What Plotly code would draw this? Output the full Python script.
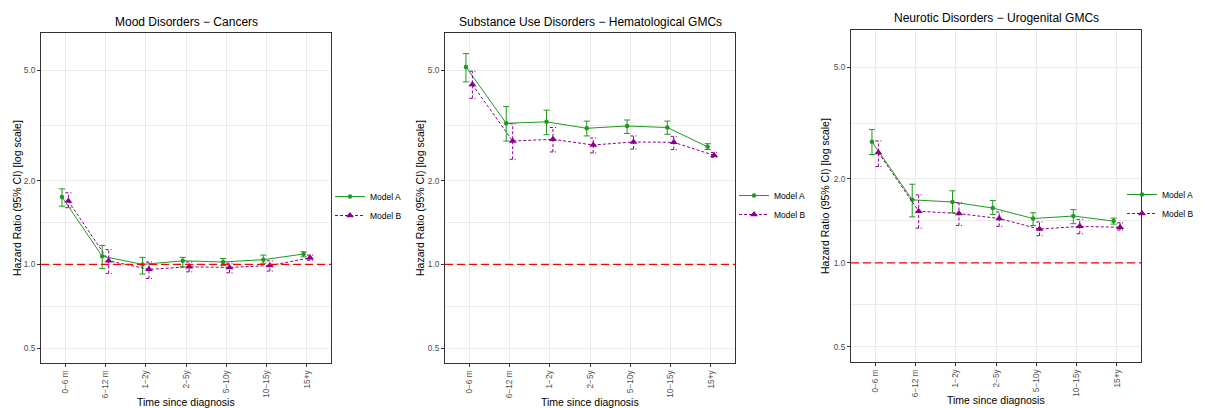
import plotly.graph_objects as go

# ---------------- data ----------------
periods = ["0−6 m", "6−12 m", "1−2y", "2−5y", "5−10y", "10−15y", "15+y"]
panel_titles = ["Mood Disorders − Cancers",
                "Substance Use Disorders − Hematological GMCs",
                "Neurotic Disorders − Urogenital GMCs"]
models = ["Model A", "Model B"]

# Panel 1: Mood Disorders - Cancers
p1_a_hr = [1.75, 1.07, 1.00, 1.03, 1.02, 1.04, 1.09]
p1_a_lo = [1.62, 0.967, 0.923, 0.98, 0.99, 1.01, 1.065]
p1_a_hi = [1.87, 1.17, 1.06, 1.06, 1.05, 1.08, 1.11]
p1_b_hr = [1.69, 1.03, 0.96, 0.98, 0.975, 0.99, 1.056]
p1_b_lo = [1.60, 0.928, 0.89, 0.94, 0.933, 0.946, 1.035]
p1_b_hi = [1.81, 1.13, 1.02, 1.02, 1.01, 1.03, 1.08]

# Panel 2: Substance Use Disorders - Hematological GMCs
p2_a_hr = [5.14, 3.22, 3.26, 3.09, 3.15, 3.11, 2.65]
p2_a_lo = [4.54, 2.78, 2.93, 2.90, 2.96, 2.94, 2.59]
p2_a_hi = [5.74, 3.70, 3.59, 3.28, 3.31, 3.28, 2.72]
p2_b_hr = [4.44, 2.78, 2.82, 2.69, 2.76, 2.75, 2.47]
p2_b_lo = [3.96, 2.39, 2.54, 2.52, 2.60, 2.59, 2.43]
p2_b_hi = [4.96, 3.21, 3.11, 2.85, 2.90, 2.89, 2.53]

# Panel 3: Neurotic Disorders - Urogenital GMCs
p3_a_hr = [2.71, 1.68, 1.65, 1.57, 1.44, 1.47, 1.41]
p3_a_lo = [2.44, 1.46, 1.51, 1.49, 1.36, 1.38, 1.375]
p3_a_hi = [3.00, 1.91, 1.81, 1.67, 1.51, 1.55, 1.445]
p3_b_hr = [2.48, 1.53, 1.50, 1.44, 1.32, 1.35, 1.34]
p3_b_lo = [2.21, 1.33, 1.36, 1.35, 1.25, 1.27, 1.31]
p3_b_hi = [2.73, 1.75, 1.64, 1.52, 1.40, 1.43, 1.39]

y_tickvals = [0.5, 1.0, 2.0, 5.0]
y_ticktext = ["0.5", "1.0", "2.0", "5.0"]
y_minor = [0.7071, 1.4142, 3.1623]
REF_HR = 1.0

panels = [
    ((p1_a_hr, p1_a_lo, p1_a_hi), (p1_b_hr, p1_b_lo, p1_b_hi)),
    ((p2_a_hr, p2_a_lo, p2_a_hi), (p2_b_hr, p2_b_lo, p2_b_hi)),
    ((p3_a_hr, p3_a_lo, p3_a_hi), (p3_b_hr, p3_b_lo, p3_b_hi)),
]

# ---------------- style / layout ----------------
OFF = 8                      # page body margin
W, H = 1210 - OFF, 408 - OFF
FONT = "Liberation Sans, Arial, sans-serif"
colors = ["#1f9a1f", "#8B008B"]
dashes = ["solid", "3px,2px"]
symbols = ["circle", "triangle-up"]
msizes = [4.5, 7]
dodge = [-0.08, 0.08]
cap = 0.075


def px(x):
    return (x - OFF) / W


def py(y):
    return 1 - (y - OFF) / H


# pixel boxes of the panels in the window: (left, right, top, bottom)
boxes = [(41, 331, 33, 363), (445, 735, 33, 363), (851, 1141, 30, 362)]
title_y = [22, 22, 18]
ytitle_x = [17, 420, 825]
xtitle_y = [402, 402, 400]
legend_pos = [(330, 206), (734, 205), (1122, 204)]

fig = go.Figure()
layout = dict(width=W, height=H, margin=dict(l=0, r=0, t=0, b=0),
              paper_bgcolor="white", plot_bgcolor="white",
              font=dict(family=FONT, color="black"),
              template="none", annotations=[], shapes=[])

for k, (series, box) in enumerate(zip(panels, boxes)):
    n = k + 1
    xa = "x" if n == 1 else f"x{n}"
    ya = "y" if n == 1 else f"y{n}"
    lg = "legend" if n == 1 else f"legend{n}"
    L, R, T, B = box
    for m, (hr, lo, hi) in enumerate(series):
        xs = [i + dodge[m] for i in range(len(periods))]
        # error bars (built from CI arrays)
        ex, ey = [], []
        for x0, l, h in zip(xs, lo, hi):
            ex += [x0, x0, None, x0 - cap, x0 + cap, None, x0 - cap, x0 + cap, None]
            ey += [l, h, None, l, l, None, h, h, None]
        fig.add_trace(go.Scatter(x=ex, y=ey, mode="lines", xaxis=xa, yaxis=ya,
                                 line=dict(color=colors[m], width=1, dash=dashes[m]),
                                 showlegend=False, hoverinfo="skip"))
        fig.add_trace(go.Scatter(x=xs, y=hr, mode="lines+markers", name=models[m],
                                 xaxis=xa, yaxis=ya, legend=lg,
                                 line=dict(color=colors[m], width=1, dash=dashes[m]),
                                 marker=dict(symbol=symbols[m], size=msizes[m],
                                             color=colors[m])))
    axis_common = dict(showline=True, linecolor="#333333", linewidth=1, mirror=True,
                       ticks="outside", ticklen=3, tickcolor="#333333", tickwidth=1,
                       showgrid=True, gridcolor="#EBEBEB", gridwidth=1,
                       zeroline=False, automargin=False,
                       tickfont=dict(family=FONT, size=8.3, color="#4D4D4D"))
    layout["xaxis" if n == 1 else f"xaxis{n}"] = dict(
        domain=[px(L), px(R)], anchor=ya, range=[-0.6, len(periods) - 0.4],
        tickmode="array", tickvals=list(range(len(periods))), ticktext=periods,
        tickangle=-90, **axis_common)
    layout["yaxis" if n == 1 else f"yaxis{n}"] = dict(
        domain=[py(B), py(T)], anchor=xa, type="log",
        range=[-0.355, 0.833], tickmode="array", tickvals=y_tickvals,
        ticktext=y_ticktext,
        minor=dict(tickvals=y_minor, showgrid=True, gridcolor="#EBEBEB",
                   gridwidth=0.5, ticks=""),
        **axis_common)
    layout["shapes"].append(dict(type="line", xref=f"{xa} domain", yref=ya,
                                 x0=0, x1=1, y0=REF_HR, y1=REF_HR,
                                 line=dict(color="#FF0000", width=1.2, dash="8px,4px")))
    cx = px((L + R) / 2)
    layout["annotations"] += [
        dict(text=panel_titles[k], x=cx, y=py(title_y[k]), xref="paper", yref="paper",
             xanchor="center", yanchor="middle", showarrow=False,
             font=dict(family=FONT, size=12, color="black")),
        dict(text="Hazard Ratio (95% CI) [log scale]", x=px(ytitle_x[k]),
             y=py((T + B) / 2), xref="paper", yref="paper", textangle=-90,
             xanchor="center", yanchor="middle", showarrow=False,
             font=dict(family=FONT, size=10.5, color="black")),
        dict(text="Time since diagnosis", x=cx, y=py(xtitle_y[k]),
             xref="paper", yref="paper", xanchor="center", yanchor="middle",
             showarrow=False, font=dict(family=FONT, size=10.5, color="black")),
    ]
    lx, ly = legend_pos[k]
    layout[lg] = dict(x=px(lx), y=py(ly), xanchor="left", yanchor="middle",
                      bgcolor="rgba(0,0,0,0)", borderwidth=0, tracegroupgap=0,
                      font=dict(family=FONT, size=8.5, color="black"),
                      itemwidth=30)

fig.update_layout(**layout)
fig.write_html("out.html")
